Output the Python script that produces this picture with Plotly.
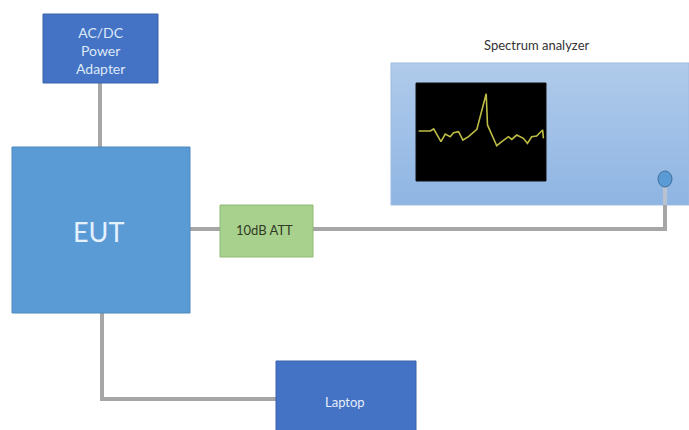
import plotly.graph_objects as go

# ---- data: spectrum trace shown on analyzer screen (relative units) ----
trace_x = [0.020, 0.110, 0.136, 0.192, 0.225, 0.263, 0.289, 0.327, 0.361, 0.404, 0.468,
           0.540, 0.550, 0.621, 0.660, 0.711, 0.737, 0.775, 0.826, 0.857, 0.890, 0.928,
           0.974, 0.980]
trace_level = [0.510, 0.510, 0.531, 0.401, 0.479, 0.452, 0.493, 0.503, 0.418, 0.452, 0.527,
               0.890, 0.572, 0.360, 0.401, 0.452, 0.425, 0.469, 0.435, 0.384, 0.452, 0.459,
               0.521, 0.435]

block_labels = ["AC/DC<br>Power<br>Adapter", "EUT", "10dB ATT", "Laptop"]
analyzer_title = "Spectrum analyzer"

W, H = 689, 430
FONT = "Lato"
GREY = "#a6a6a6"

fig = go.Figure()

# analyzer body with vertical gradient
fig.add_trace(go.Scatter(
    x=[391, 689, 689, 391, 391], y=[63, 63, 205, 205, 63],
    mode="lines", line=dict(color="#9dbbe0", width=1),
    fill="toself",
    fillgradient=dict(type="vertical", colorscale=[[0, "#8fb5e3"], [1, "#b0cbeb"]]),
    hoverinfo="skip", showlegend=False))

# analyzer screen
fig.add_trace(go.Scatter(
    x=[416, 546, 546, 416, 416], y=[83, 83, 181, 181, 83],
    mode="lines", line=dict(color="#111111", width=1),
    fill="toself", fillcolor="#000000",
    hoverinfo="skip", showlegend=False))

# spectrum trace on screen axes
fig.add_trace(go.Scatter(
    x=trace_x, y=trace_level, xaxis="x2", yaxis="y2",
    mode="lines", line=dict(color="#bdbd45", width=1.6),
    hoverinfo="skip", showlegend=False))

shapes = []
def line(x0, y0, x1, y1, color=GREY):
    shapes.append(dict(type="line", x0=x0, y0=y0, x1=x1, y1=y1,
                       line=dict(color=color, width=4), layer="above"))

line(100, 83, 100, 148)
line(190, 229, 221, 229)
line(312, 229, 665, 229)
line(665, 231, 665, 205)
line(665, 205, 665, 184, "#b9c3cf")
line(102, 312, 102, 399)
line(100, 399, 277, 399)

def rect(x0, y0, x1, y1, fill, border):
    shapes.append(dict(type="rect", x0=x0, y0=y0, x1=x1, y1=y1,
                       fillcolor=fill, line=dict(color=border, width=1), layer="above"))

rect(43, 14, 158, 83, "#4472c4", "#3a62aa")
rect(12, 147, 190, 313, "#5b9bd5", "#4f88bd")
rect(220, 205, 313, 257, "#a9d18e", "#8fb874")
rect(276, 361, 416, 432, "#4472c4", "#3a62aa")
# connector
shapes.append(dict(type="circle", x0=658, y0=171, x1=672, y1=187,
                   fillcolor="#5b9bd5", line=dict(color="#41719c", width=1), layer="above"))

annotations = [
    dict(x=100.5, y=50, text=block_labels[0], font=dict(family=FONT, size=14, color="#dce9f8")),
    dict(x=98, y=231, text=block_labels[1], font=dict(family=FONT, size=27, color="#e4f1ff")),
    dict(x=264, y=230, text=block_labels[2], font=dict(family=FONT, size=13, color="#2f3a24")),
    dict(x=345, y=402, text=block_labels[3], font=dict(family=FONT, size=13, color="#e4eefc")),
    dict(x=536, y=45, text=analyzer_title, font=dict(family=FONT, size=13, color="#333333")),
]
for a in annotations:
    a.update(xref="x", yref="y", showarrow=False)

fig.update_layout(
    width=W, height=H, margin=dict(l=0, r=0, t=0, b=0),
    paper_bgcolor="white", plot_bgcolor="rgba(0,0,0,0)",
    xaxis=dict(range=[0, W], visible=False, fixedrange=True),
    yaxis=dict(range=[H, 0], visible=False, fixedrange=True),
    xaxis2=dict(domain=[416 / W, 546 / W], range=[0, 1], visible=False, anchor="y2", fixedrange=True),
    yaxis2=dict(domain=[(H - 181) / H, (H - 83) / H], range=[0, 1], visible=False, anchor="x2", fixedrange=True),
    shapes=shapes, annotations=annotations, showlegend=False,
)

fig.write_html("out.html", config={"displayModeBar": False},
               post_script="document.body.style.margin='0';")
